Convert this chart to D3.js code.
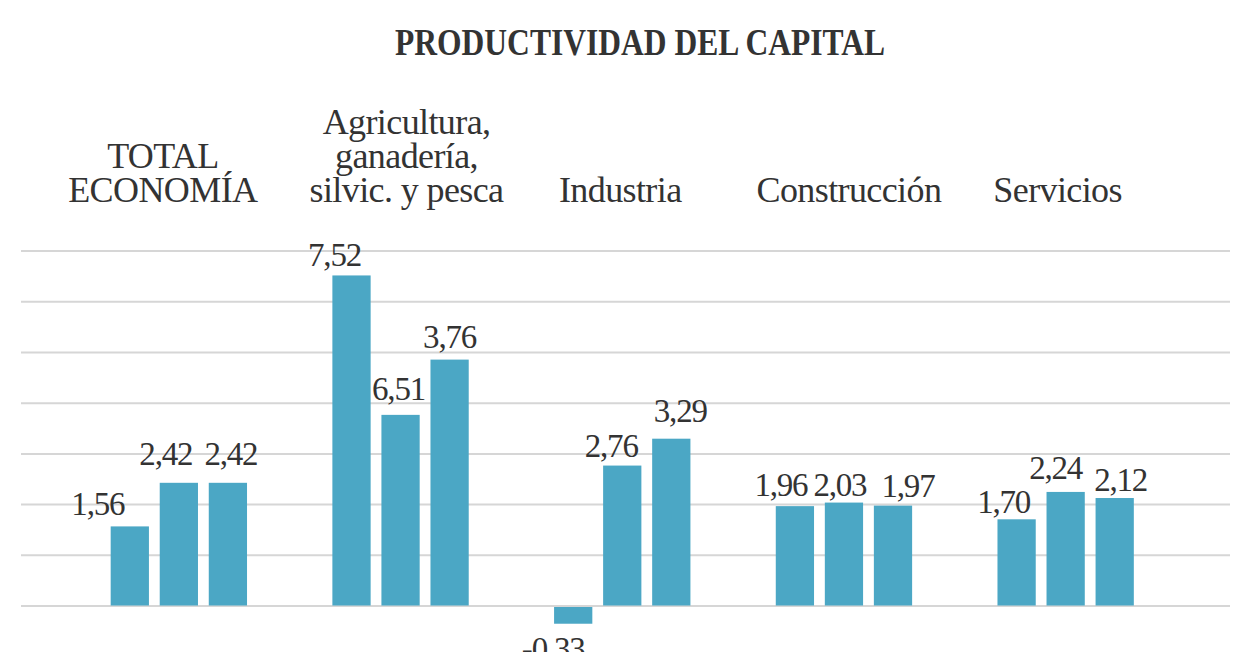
<!DOCTYPE html>
<html><head><meta charset="utf-8">
<script src="https://cdn.jsdelivr.net/npm/d3@7"></script>
<style>
html,body{margin:0;padding:0;background:#fff;}
svg{display:block;}
text{font-family:"Liberation Serif","Times New Roman",serif;fill:#333;}
</style></head>
<body><svg id="chart" width="1234" height="652"></svg>
<script>
// ---- data ----
const title = "PRODUCTIVIDAD DEL CAPITAL";
const categories = ["TOTAL ECONOMÍA", "Agricultura, ganadería, silvic. y pesca", "Industria", "Construcción", "Servicios"];
const categoryLines = [["TOTAL", "ECONOMÍA"], ["Agricultura,", "ganadería,", "silvic. y pesca"], ["Industria"], ["Construcción"], ["Servicios"]];
const seriesKeys = ["s1", "s2", "s3"];
// bar heights as drawn in the picture
const s1Values = [1.56, 6.51, -0.33, 1.96, 1.70];
const s2Values = [2.42, 3.76, 2.76, 2.03, 2.24];
const s3Values = [2.42, 4.85, 3.29, 1.97, 2.12];
// printed value labels
const s1Labels = [1.56, 7.52, -0.33, 1.96, 1.70];
const s2Labels = [2.42, 6.51, 2.76, 2.03, 2.24];
const s3Labels = [2.42, 3.76, 3.29, 1.97, 2.12];
const gridTicks = [0, 1, 2, 3, 4, 5, 6, 7];

// ---- layout (not data) ----
const labelNudgeX = {s1: [-32, -17, -20, -14, -13], s2: [-13, -2, -11, -4, -10], s3: [3, 0, 9, 15, 6]};
const labelGap = {s1: [11, 9, 0, 10, 6], s2: [18, 15, 9, 7, 13], s3: [18, 12, 17, 9, 7]};
const catNudgeX = [-16, 6, -2, 5, -8];

const svg = d3.select("#chart");
const locale = d3.formatLocale({decimal: ",", thousands: ".", grouping: [3], currency: ["", "€"], minus: "-"});
const fmt = locale.format(".2f");

const valuesByKey = {s1: s1Values, s2: s2Values, s3: s3Values};
const labelsByKey = {s1: s1Labels, s2: s2Labels, s3: s3Labels};
const rows = categories.map((c, i) => ({
  cat: c, i,
  bars: seriesKeys.map(k => ({key: k, i, value: valuesByKey[k][i], label: labelsByKey[k][i]}))
}));

const x0 = d3.scaleBand().domain(categories).range([68, 1176.5]).paddingInner(0.385).paddingOuter(0.1925);
const x1 = d3.scaleBand().domain(seriesKeys).range([0, x0.bandwidth()]).paddingInner(0.22).paddingOuter(0);
const y = d3.scaleLinear().domain([0, 7]).range([605.5, 250.6]);

// gridlines
const grid = svg.append("g").attr("transform", "translate(21,0)")
  .call(d3.axisLeft(y).tickValues(gridTicks).tickSize(-1209).tickFormat(""));
grid.select(".domain").remove();
grid.selectAll(".tick line").attr("stroke", "#d6d6d6").attr("stroke-width", 2);

// title
svg.append("text").attr("x", 640).attr("y", 55).attr("text-anchor", "middle")
  .attr("textLength", 490).attr("lengthAdjust", "spacingAndGlyphs")
  .style("font-size", "37px").style("font-weight", "bold")
  .attr("fill", "#2b2b2b").text(title);

// category labels
const catG = svg.append("g");
categoryLines.forEach((lines, i) => {
  const cx = x0(categories[i]) + x0.bandwidth() / 2 + catNudgeX[i];
  const t = catG.append("text").attr("text-anchor", "middle")
    .style("font-size", "36px").style("letter-spacing", "-0.6px");
  const n = lines.length;
  lines.forEach((ln, j) => {
    t.append("tspan").attr("x", cx).attr("y", 202 - (n - 1 - j) * 34).text(ln);
  });
});

// bars
const groups = svg.append("g").selectAll("g.grp").data(rows).join("g")
  .attr("class", "grp").attr("transform", d => `translate(${x0(d.cat)},0)`);

groups.selectAll("rect").data(d => d.bars).join("rect")
  .attr("x", d => x1(d.key))
  .attr("width", x1.bandwidth())
  .attr("y", d => d.value >= 0 ? y(d.value) : y(0) + 1.5)
  .attr("height", d => d.value >= 0 ? y(0) - y(d.value) : y(d.value) - y(0))
  .attr("fill", "#4ba7c5");

groups.selectAll("text.val").data(d => d.bars).join("text")
  .attr("class", "val")
  .attr("text-anchor", "middle")
  .style("font-size", "33px").style("letter-spacing", "-1.2px")
  .attr("x", d => x1(d.key) + x1.bandwidth() / 2 + labelNudgeX[d.key][d.i])
  .attr("y", d => d.value >= 0 ? y(d.value) - labelGap[d.key][d.i] : y(d.value) + 38)
  .text(d => fmt(d.label));
</script></body></html>
